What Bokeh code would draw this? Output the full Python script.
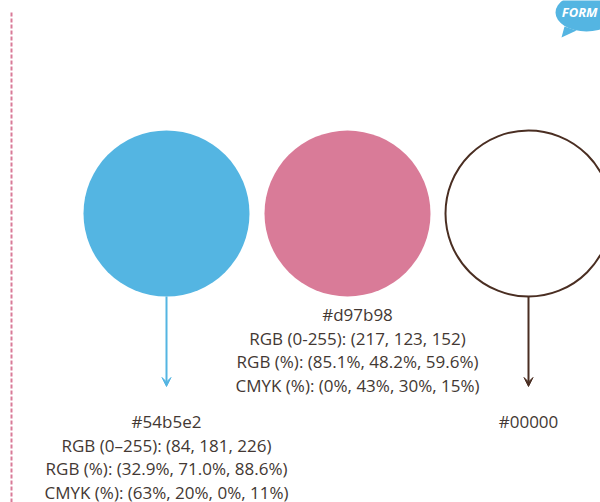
from bokeh.plotting import figure
from bokeh.models import Range1d, Arrow, VeeHead
from bokeh.core.properties import value
from bokeh.embed import file_html
from bokeh.resources import INLINE

# ---- data ----
hex_codes = ["#54b5e2", "#d97b98", "#00000"]
swatch_fill = ["#54b5e2", "#d97b98", "#ffffff"]
swatch_line = ["#54b5e2", "#d97b98", "#4a2e22"]
rgb_label = ["RGB (0\u2013255)", "RGB (0-255)", None]
rgb_255 = [(84, 181, 226), (217, 123, 152), None]
rgb_pct = [("32.9%", "71.0%", "88.6%"), ("85.1%", "48.2%", "59.6%"), None]
cmyk_pct = [("63%", "20%", "0%", "11%"), ("0%", "43%", "30%", "15%"), None]
label_below = [True, False, True]
logo_text = "FORM"

# ---- layout (pixel-like data units) ----
X0, DX, CY, R = 166, 181, 213, 83
TEXT_COLOR = "#433833"
FONT = value("Open Sans")
W, H = 600, 502

p = figure(width=W, height=H, x_range=Range1d(0, W), y_range=Range1d(H, 0),
           output_backend="svg", toolbar_location=None, min_border=0,
           x_axis_type=None, y_axis_type=None)
p.grid.visible = False
p.outline_line_color = None
p.background_fill_color = "white"
p.border_fill_color = "white"

# dashed vertical guide
p.segment(x0=[11], y0=[12], x1=[11], y1=[502], line_color="#d97b98",
          line_width=2, line_dash="4 2")

# logo bubble
p.ellipse(x=[586], y=[12], width=[62], height=[38], fill_color="#54b5e2", line_color=None)
p.patch(x=[564, 576, 561], y=[26, 30, 37], fill_color="#54b5e2", line_color=None)
p.text(x=[597], y=[11], text=[logo_text], text_color="white", text_align="right",
       text_font=value("Open Sans"),
       text_font_style="bold italic", text_font_size="13px", text_baseline="middle")

xs = [X0 + DX * i for i in range(len(hex_codes))]

# swatches
p.circle(x=xs, y=[CY] * len(xs), radius=R, fill_color=swatch_fill,
         line_color=swatch_line, line_width=[0, 0, 2])

# arrows for labels placed below
for i, x in enumerate(xs):
    if label_below[i]:
        p.add_layout(Arrow(end=VeeHead(size=9, line_color=swatch_line[i], fill_color=swatch_line[i],
                                       line_width=1),
                           x_start=x, y_start=CY + R, x_end=x, y_end=386,
                           line_color=swatch_line[i], line_width=2))

# labels
tx, ty, tt = [], [], []
for i, x in enumerate(xs):
    lines = [hex_codes[i]]
    if rgb_255[i] is not None:
        lines.append("%s: (%d, %d, %d)" % ((rgb_label[i],) + rgb_255[i]))
        lines.append("RGB (%%): (%s, %s, %s)" % rgb_pct[i])
        lines.append("CMYK (%%): (%s, %s, %s, %s)" % cmyk_pct[i])
    y0 = 421 if label_below[i] else 314
    for k, s in enumerate(lines):
        tx.append(x if i != 1 else x + 10)
        ty.append(y0 + 23.5 * k)
        tt.append(s)

p.text(x=tx, y=ty, text=tt, text_align="center", text_baseline="middle",
       text_font=FONT, text_font_size="17px", text_color=TEXT_COLOR)

open("out.html", "w").write(file_html(p, INLINE))
